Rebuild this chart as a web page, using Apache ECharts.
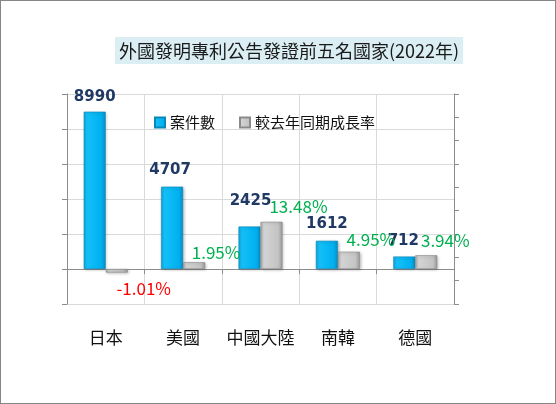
<!DOCTYPE html>
<html>
<head>
<meta charset="utf-8">
<script src="https://cdn.jsdelivr.net/npm/echarts@6/dist/echarts.min.js"></script>
<style>
	html, body { margin: 0; padding: 0; background: #fff; }
	#main { width: 556px; height: 404px; box-sizing: border-box; border: 1px solid #868686; }
</style>
</head>
<body>
<div id="main"></div>
<script>
var countries = ['日本', '美國', '中國大陸', '南韓', '德國'];
var counts = [8990, 4707, 2425, 1612, 712];
var growth = [-1.01, 1.95, 13.48, 4.95, 3.94];
// label nudges
var countOffsets = [[0, -7], [-2, -9], [1, -18], [0, -9], [-1, -8]];
var growthOffsets = [[27, 8], [22, -1], [27, -7], [22, -4], [19, -6]];

var font = '"Noto Sans CJK TC", "Noto Sans", sans-serif';

var myChart = echarts.init(document.getElementById('main'));

var blueFill = new echarts.graphic.LinearGradient(0, 0, 1, 0, [
	{ offset: 0, color: '#12a6dc' },
	{ offset: 0.15, color: '#14c0f8' },
	{ offset: 0.8, color: '#00b0f0' },
	{ offset: 1, color: '#0a8fc4' }
]);
var grayFill = new echarts.graphic.LinearGradient(0, 0, 1, 0, [
	{ offset: 0, color: '#a9a9a9' },
	{ offset: 0.15, color: '#d4d4d4' },
	{ offset: 0.8, color: '#c4c4c4' },
	{ offset: 1, color: '#9a9a9a' }
]);

var countData = counts.map(function(v, i) {
	return { value: v, label: { offset: countOffsets[i] } };
});
var growthData = growth.map(function(v, i) {
	var item = { value: v, label: { offset: growthOffsets[i] } };
	if (v < 0) {
		item.label.position = 'bottom';
		item.label.color = '#ff0000';
	}
	return item;
});

var option = {
	animation: false,
	title: {
		text: '外國發明專利公告發證前五名國家(2022年)',
		left: 114,
		top: 36,
		padding: [5, 4, 4, 4],
		backgroundColor: '#daeef3',
		textStyle: {
			fontFamily: font,
			fontSize: 18,
			fontWeight: 'normal',
			color: '#1a1a1a'
		}
	},
	legend: {
		left: 148,
		top: 109,
		itemWidth: 10,
		itemHeight: 10,
		itemGap: 24,
		icon: 'rect',
		textStyle: { fontFamily: font, fontSize: 15, color: '#111' },
		data: ['案件數', '較去年同期成長率']
	},
	grid: {
		left: 66,
		right: 101,
		top: 93,
		bottom: 99
	},
	xAxis: [{
		type: 'category',
		data: countries,
		axisLine: { onZero: true, lineStyle: { color: '#8c8c8c', width: 1 } },
		axisTick: { show: true, length: 5, lineStyle: { color: '#8c8c8c' } },
		axisLabel: { show: false },
		splitLine: { show: false }
	}, {
		type: 'category',
		position: 'bottom',
		data: countries,
		axisLine: { show: false, onZero: false },
		axisTick: { show: false },
		axisLabel: {
			interval: 0,
			margin: 25,
			fontFamily: font,
			fontSize: 17,
			color: '#111'
		},
		splitLine: { show: true, interval: 0, lineStyle: { color: '#d9d9d9', width: 1 } }
	}],
	yAxis: [{
		type: 'value',
		min: -2000,
		max: 10000,
		interval: 2000,
		axisLine: { show: true, lineStyle: { color: '#8c8c8c' } },
		axisTick: { show: true, length: 5, lineStyle: { color: '#8c8c8c' } },
		axisLabel: { show: false },
		splitLine: { show: true, lineStyle: { color: '#d9d9d9' } }
	}, {
		type: 'value',
		position: 'right',
		min: -10,
		max: 50,
		interval: 60 / 9,
		axisLine: { show: true, lineStyle: { color: '#8c8c8c' } },
		axisTick: { show: true, length: 5, lineStyle: { color: '#8c8c8c' } },
		axisLabel: { show: false },
		splitLine: { show: false }
	}],
	series: [{
		name: '案件數',
		type: 'bar',
		xAxisIndex: 0,
		yAxisIndex: 0,
		barWidth: 22,
		barGap: '0%',
		itemStyle: {
			color: blueFill,
			borderColor: '#0a86b8',
			borderWidth: 0.6,
			shadowColor: 'rgba(0,0,0,0.25)',
			shadowBlur: 3,
			shadowOffsetX: 1,
			shadowOffsetY: 1
		},
		label: {
			show: true,
			position: 'top',
			distance: 0,
			fontFamily: '"DejaVu Sans", Verdana, sans-serif',
			fontSize: 15,
			fontWeight: 'bold',
			color: '#1f3864'
		},
		data: countData
	}, {
		name: '較去年同期成長率',
		type: 'bar',
		xAxisIndex: 0,
		yAxisIndex: 1,
		barWidth: 22,
		barGap: '0%',
		itemStyle: {
			color: grayFill,
			borderColor: '#8a8a8a',
			borderWidth: 0.6,
			shadowColor: 'rgba(0,0,0,0.25)',
			shadowBlur: 3,
			shadowOffsetX: 1,
			shadowOffsetY: 1
		},
		label: {
			show: true,
			position: 'top',
			distance: 0,
			fontFamily: font,
			fontSize: 17,
			color: '#00b050',
			formatter: function(p) { return p.value.toFixed(2) + '%'; }
		},
		data: growthData
	}]
};
myChart.setOption(option);
</script>
</body>
</html>
